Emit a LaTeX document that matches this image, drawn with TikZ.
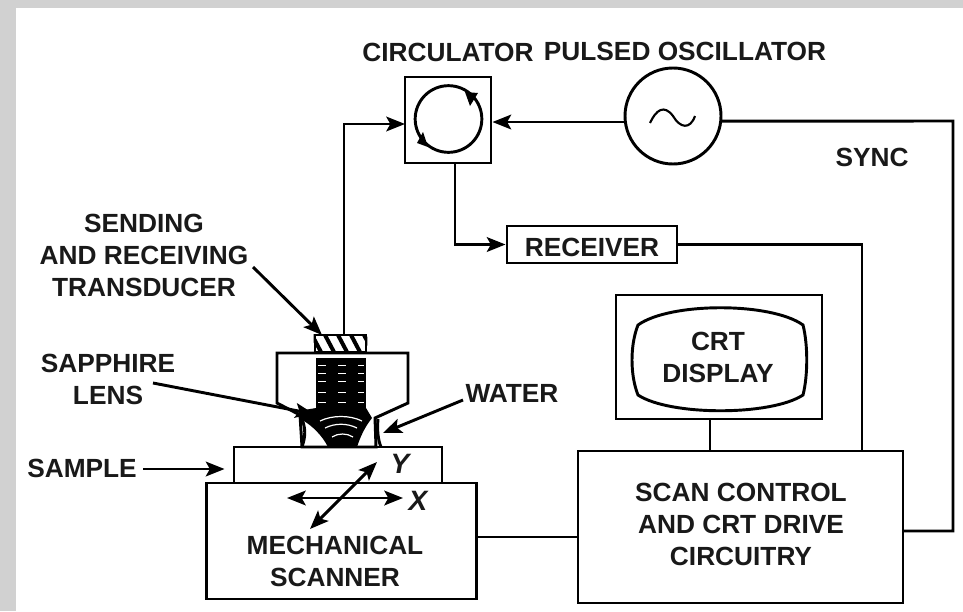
\documentclass[tikz,border=0pt]{standalone}
\usepackage{fontspec}
\setmainfont{Liberation Sans}
\usepackage{tikz}
\usetikzlibrary{arrows.meta}
\tikzstyle{wire}=[line width=2.2pt, black, line join=miter]
\tikzstyle{arr}=[wire, -{Stealth[length=14pt,width=11pt,inset=3pt]}]
\tikzstyle{darr}=[wire, {Stealth[length=14pt,width=11pt,inset=3pt]}-{Stealth[length=14pt,width=11pt,inset=3pt]}]
\tikzstyle{box}=[draw=black, line width=2.2pt, fill=white, inner sep=0pt]
\tikzstyle{lab}=[font=\bfseries\fontsize{19.7}{24}\selectfont, black!90, align=center, inner sep=0pt]
\tikzstyle{axis}=[lab, font=\bfseries\itshape\fontsize{21}{24}\selectfont]
\begin{document}
\begin{tikzpicture}[x=.75pt, y=-.75pt]
    \useasboundingbox (0,0) rectangle (963,611);
    \fill[black!18] (0,0) rectangle (963,611);
    \fill[white] (16,8) rectangle (963,611);
    % boxes
    \node[box, minimum width=64.5pt, minimum height=64.5pt] (circ) at (448,120) {};
    \node[box, circle, minimum size=72pt] (osc) at (673,116) {};
    \node[box, minimum width=127.5pt, minimum height=27.75pt] (rec) at (592,244.5) {};
    \node[box, minimum width=154.5pt, minimum height=93pt] (disp) at (719,357) {};
    \node[box, minimum width=243.75pt, minimum height=114pt] (scan) at (740.5,527) {};
    \node[box, minimum width=203pt, minimum height=87pt] (mech) at (341.5,541) {};
    \node[box, minimum width=156pt, minimum height=27pt] (samp) at (338,465) {};
    \node[box, minimum width=38.25pt, minimum height=12.75pt] (trans) at (340.5,343.5) {};
    \node[box, circle, minimum size=50pt] (ring) at (448.5,119) {};
    % hatching of the transducer
    \begin{scope}
      \clip (trans.south west) rectangle (trans.north east);
      \foreach \x in {312,325,338,351,364}
        \draw[line width=3pt] (\x,335) -- (\x+9,352);
    \end{scope}
    % crt screen
    \draw[box] (638,325) .. controls (670,302) and (771,302) .. (803,325)
      .. controls (808,345) and (808,375) .. (803,395)
      .. controls (771,416) and (670,416) .. (638,395)
      .. controls (630,375) and (630,345) .. (638,325) -- cycle;
    % lens
    \draw[box] (277,353) -- (408,353) -- (408,403) -- (375,418) -- (376,447) -- (302,447)
      -- (300,415) -- (277,403) -- cycle;
    \fill (316,358) rectangle (366,412);
    \foreach \y in {365,373,381,392,402}
      \draw[white, line width=.6pt, dash pattern=on 6pt off 9pt] (318,\y) -- (364,\y);
    \fill (298,411) -- (316,408) -- (366,408) -- (372,418)
      .. controls (364,428) and (360,438) .. (357,447) -- (328,447)
      .. controls (322,435) and (312,426) .. (304,421) -- cycle;
    \draw[white, line width=.9pt] (320,421) .. controls (332,415) and (350,415) .. (362,421);
    \draw[white, line width=.9pt] (325,428) .. controls (335,423) and (347,423) .. (357,428);
    \draw[white, line width=.9pt] (332,437) .. controls (338,433) and (347,433) .. (353,437);
    \draw[wire] (300,415) .. controls (307,428) and (305,438) .. (302,447);
    \draw[wire] (378,419) .. controls (377,430) and (378,440) .. (381,447);
    % circulator
    \fill (465,92) -- (478,93) -- (470,106) -- cycle;
    \fill (417,143) -- (428,147) -- (423,132) -- cycle;
    % sine of the oscillator
    \draw[line width=1.6pt] (650,123) .. controls (656,110) and (664,104) .. (673,116)
      .. controls (680,128) and (690,130) .. (695,116);
    % wires
    \coordinate (transout) at (344,335);
    \coordinate (circin) at (405,124);
    \coordinate (circout) at (455,163);
    \coordinate (scanrec) at (862,451);
    \coordinate (dispout) at (710,419);
    \coordinate (syncbend) at (953,121);
    \coordinate (scanout) at (903,531);
    \coordinate (scanin) at (578,537);
    \draw[arr] (transout) |- (circin);
    \draw[arr] (osc.187) -- (circ.east |- osc.187);
    \draw[arr] (circout) |- (rec.west);
    \draw[wire] (rec.east) -| (scanrec);
    \draw[wire] (dispout) -- (dispout |- scan.north);
    \draw[wire] (osc.-6) -- (syncbend) |- (scanout);
    \draw[wire] (scanin) -- (scanin -| mech.east);
    % labels
    \node[lab] (clab) at (448,52) {CIRCULATOR};
    \node[lab] (olab) at (685,51) {PULSED OSCILLATOR};
    \node[lab] (sync) at (872,157) {SYNC};
    \node[lab] (rlab) at (592,247) {RECEIVER};
    \node[lab] (dlab) at (718,357) {CRT\\DISPLAY};
    \node[lab] (slab2) at (741,524) {SCAN CONTROL\\AND CRT DRIVE\\CIRCUITRY};
    \node[lab] (mlab) at (335,561) {MECHANICAL\\SCANNER};
    \node[lab] (tlab) at (144,255) {SENDING\\AND RECEIVING\\TRANSDUCER};
    \node[lab] (llab) at (108,379) {SAPPHIRE\\LENS};
    \node[lab] (wlab) at (512,393) {WATER};
    \node[lab, anchor=west] (slab) at (27,468) {SAMPLE};
    % pointers
    \coordinate (tstart) at (253,267);
    \coordinate (ttip) at (322,335);
    \coordinate (lstart) at (153,383);
    \coordinate (ltip) at (314,414);
    \coordinate (wstart) at (463,400);
    \coordinate (wtip) at (383,433);
    \coordinate (sstart) at (143,469);
    \draw[arr] (tstart) -- (ttip);
    \draw[arr] (lstart) -- (ltip);
    \draw[arr] (wstart) -- (wtip);
    \draw[arr, shorten >=6pt] (sstart) -- (sstart -| samp.west);
    % axes
    \coordinate (xl) at (287,498);
    \coordinate (xr) at (403,498);
    \coordinate (yl) at (310,529);
    \coordinate (yr) at (377,462);
    \draw[darr] (xl) -- (xr);
    \draw[darr] (yl) -- (yr);
    \node[axis] (xlab) at (418,501) {X};
    \node[axis] (ylab) at (400,464) {Y};
\end{tikzpicture}
\end{document}
